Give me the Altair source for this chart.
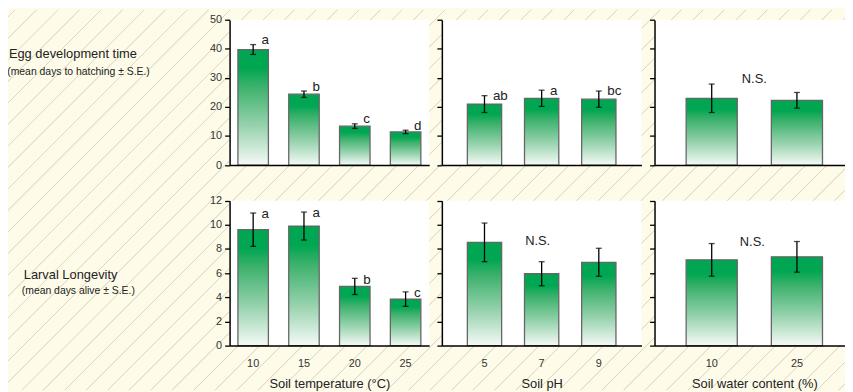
import math
import altair as alt
import pandas as pd

# ---------------- data ----------------
temp_levels = ["10", "15", "20", "25"]
ph_levels = ["5", "7", "9"]
water_levels = ["10", "25"]

egg_temp_mean = [39.8, 24.4, 13.4, 11.4]
egg_temp_se = [1.7, 1.1, 0.8, 0.6]
egg_temp_letters = ["a", "b", "c", "d"]

egg_ph_mean = [21.0, 23.0, 22.7]
egg_ph_se = [2.9, 2.8, 2.8]
egg_ph_letters = ["ab", "a", "bc"]

egg_water_mean = [23.0, 22.3]
egg_water_se = [4.9, 2.7]

larva_temp_mean = [9.6, 9.9, 4.9, 3.85]
larva_temp_se = [1.38, 1.16, 0.67, 0.6]
larva_temp_letters = ["a", "a", "b", "c"]

larva_ph_mean = [8.55, 5.95, 6.9]
larva_ph_se = [1.6, 1.0, 1.16]

larva_water_mean = [7.1, 7.35]
larva_water_se = [1.35, 1.27]

# "N.S." annotations: (anchor level, value)
egg_water_ns = ("10", 29.7)
larva_ph_ns = ("7", 8.7)
larva_water_ns = ("10", 8.6)

x_titles = ["Soil temperature (°C)", "Soil pH", "Soil water content (%)"]
row_titles = ["Egg development time", "Larval Longevity"]
row_subtitles = ["(mean days to hatching ± S.E.)", "(mean days alive ± S.E.)"]
egg_ticks = [0, 10, 20, 30, 40, 50]
larva_ticks = [0, 2, 4, 6, 8, 10, 12]

# ---------------- layout / style ----------------
FONT = "Liberation Sans"
BG = "#fefce9"
HATCH = "#dcd9c5"
W, H = 845, 384
PANEL_X = [223.7, 438.0, 652.7]
PANEL_W = 201.5
ROW_Y = [(10.2, 156.7), (192.7, 339.0)]  # (top, bottom) in px
PAD_INNER = 0.4
PAD_OUTER = [0.164, 0.446, 0.371]

bar_gradient = alt.LinearGradient(
    gradient="linear",
    stops=[
        alt.GradientStop(color="#00a651", offset=0),
        alt.GradientStop(color="#00a651", offset=0.16),
        alt.GradientStop(color="#3cb16c", offset=0.32),
        alt.GradientStop(color="#96d2ad", offset=0.66),
        alt.GradientStop(color="#f5faf6", offset=1),
    ],
    x1=0, x2=0, y1=0, y2=1,
)

# diagonal hatch for the page background
SQ = 900
hx0, hy0 = 0, (H - SQ) / 2
spacing, phase = 21.7, 7.2
base = hx0 + hy0
hstops = [alt.GradientStop(color=BG, offset=0)]
c = phase + spacing * math.ceil((base - phase) / spacing + 1)
while c < base + 2 * SQ - spacing:
    t = (c - base) / (2 * SQ)
    d1, d0 = 0.9 / (2 * SQ), 0.3 / (2 * SQ)
    hstops += [
        alt.GradientStop(color=BG, offset=t - d1),
        alt.GradientStop(color=HATCH, offset=t - d0),
        alt.GradientStop(color=HATCH, offset=t + d0),
        alt.GradientStop(color=BG, offset=t + d1),
    ]
    c += spacing
hstops.append(alt.GradientStop(color=BG, offset=1))
hatch_gradient = alt.LinearGradient(gradient="linear", stops=hstops, x1=0, y1=0, x2=1, y2=1)

one = pd.DataFrame({"k": [0]})

hatch = alt.Chart(one).mark_rect(fill=hatch_gradient, clip=True).encode(
    x=alt.value(hx0), x2=alt.value(hx0 + SQ), y=alt.value(hy0), y2=alt.value(hy0 + SQ)
)

whites = []
for r in range(2):
    for col in range(3):
        whites.append(
            alt.Chart(one).mark_rect(fill="white").encode(
                x=alt.value(PANEL_X[col]), x2=alt.value(PANEL_X[col] + PANEL_W),
                y=alt.value(ROW_Y[r][0]), y2=alt.value(ROW_Y[r][1]),
            )
        )

labels = []
title_pos = [(65.5, 49.0), (63.2, 272.0)]
sub_pos = [(71.2, 66.0), (71.0, 287.0)]
for i in range(2):
    labels.append(
        alt.Chart(pd.DataFrame({"t": [row_titles[i]]})).mark_text(
            fontSize=13, color="#222222", align="center", baseline="alphabetic"
        ).encode(x=alt.value(title_pos[i][0]), y=alt.value(title_pos[i][1]), text="t:N")
    )
    labels.append(
        alt.Chart(pd.DataFrame({"t": [row_subtitles[i]]})).mark_text(
            fontSize=10.5, color="#222222", align="center", baseline="alphabetic"
        ).encode(x=alt.value(sub_pos[i][0]), y=alt.value(sub_pos[i][1]), text="t:N")
    )


def panel(levels, means, ses, letters, col, row, ymax, ticks, ns=None, ns_dx=0, letter_dy=0):
    x0 = PANEL_X[col]
    ytop, ybot = ROW_Y[row]
    df = pd.DataFrame({
        "level": levels,
        "mean": means,
        "lo": [m - s for m, s in zip(means, ses)],
        "hi": [m + s for m, s in zip(means, ses)],
    })
    if letters:
        df["letter"] = letters
    bottom = row == 1
    if bottom:
        x_axis = alt.Axis(orient="bottom", offset=ybot - H, labels=True, ticks=False,
                          labelPadding=12.5, titlePadding=9, labelAngle=0, zindex=1)
        xtitle = x_titles[col]
    else:
        x_axis = alt.Axis(orient="bottom", offset=ybot - H, labels=False, ticks=False, zindex=1)
        xtitle = None
    xenc = alt.X(
        "level:N",
        scale=alt.Scale(domain=levels, range=[x0, x0 + PANEL_W],
                        paddingInner=PAD_INNER, paddingOuter=PAD_OUTER[col]),
        axis=x_axis, title=xtitle,
    )
    yscale = alt.Scale(domain=[0, ymax], range=[ybot, ytop], nice=False)
    y_axis = alt.Axis(orient="left", offset=-x0, values=ticks, labels=(col == 0),
                      tickSize=5, labelPadding=3, grid=False, zindex=1)

    def Y(f):
        return alt.Y(f, scale=yscale, axis=y_axis, title=None)

    bars = alt.Chart(df).mark_bar(fill=bar_gradient, stroke="#666666", strokeWidth=1.3).encode(
        x=xenc, y=Y("mean:Q")
    )
    err = alt.Chart(df).mark_rule(color="black", strokeWidth=1.3).encode(
        x=xenc, y=Y("lo:Q"), y2="hi:Q"
    )
    cap_hi = alt.Chart(df).mark_tick(color="black", thickness=1.3, size=6).encode(x=xenc, y=Y("hi:Q"))
    cap_lo = alt.Chart(df).mark_tick(color="black", thickness=1.3, size=6).encode(x=xenc, y=Y("lo:Q"))
    parts = [bars, err, cap_hi, cap_lo]
    if letters:
        parts.append(
            alt.Chart(df).mark_text(align="left", baseline="middle", dx=8.5, dy=letter_dy,
                                    fontSize=13.5, color="#222222").encode(
                x=xenc, y=Y("hi:Q"), text="letter:N")
        )
    if ns:
        nsdf = pd.DataFrame({"level": [ns[0]], "v": [ns[1]], "t": ["N.S."]})
        parts.append(
            alt.Chart(nsdf).mark_text(align="center", baseline="middle", dx=ns_dx, fontSize=13,
                                      color="#222222").encode(x=xenc, y=Y("v:Q"), text="t:N")
        )
    return alt.layer(*parts)


def half_step(n, col):
    return PANEL_W / (n - PAD_INNER + 2 * PAD_OUTER[col]) / 2


p1 = panel(temp_levels, egg_temp_mean, egg_temp_se, egg_temp_letters, 0, 0, 50, egg_ticks,
           letter_dy=-4.5)
p2 = panel(ph_levels, egg_ph_mean, egg_ph_se, egg_ph_letters, 1, 0, 50, egg_ticks,
           letter_dy=0.5)
p3 = panel(water_levels, egg_water_mean, egg_water_se, None, 2, 0, 50, egg_ticks,
           ns=egg_water_ns, ns_dx=half_step(2, 2))
p4 = panel(temp_levels, larva_temp_mean, larva_temp_se, larva_temp_letters, 0, 1, 12, larva_ticks,
           letter_dy=1.5)
p5 = panel(ph_levels, larva_ph_mean, larva_ph_se, None, 1, 1, 12, larva_ticks,
           ns=larva_ph_ns, ns_dx=-4)
p6 = panel(water_levels, larva_water_mean, larva_water_se, None, 2, 1, 12, larva_ticks,
           ns=larva_water_ns, ns_dx=half_step(2, 2) - 2)

chart = (
    alt.layer(hatch, *whites, *labels, p1, p2, p3, p4, p5, p6)
    .resolve_scale(x="independent", y="independent")
    .properties(width=W, height=H, autosize=alt.AutoSizeParams(type="none"),
                padding=0, background=BG)
    .configure(font=FONT)
    .configure_view(stroke=None)
    .configure_axis(domainColor="black", domainWidth=1.5, tickColor="black", tickWidth=1.3,
                    labelFont=FONT, labelFontSize=11, labelColor="#333333",
                    titleFont=FONT, titleFontSize=13, titleFontWeight="normal",
                    titleColor="#222222")
    .configure_text(font=FONT)
)

chart.save("out.html", embed_options={"renderer": "svg", "actions": False})
